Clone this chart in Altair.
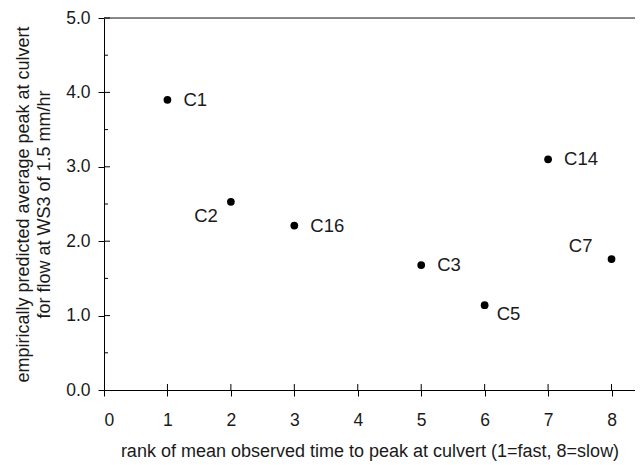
import altair as alt
import pandas as pd

ranks = [1, 2, 3, 5, 6, 7, 8]
peaks = [3.90, 2.53, 2.21, 1.68, 1.14, 3.10, 1.76]
names = ["C1", "C2", "C16", "C3", "C5", "C14", "C7"]
x_ticks = [0, 1, 2, 3, 4, 5, 6, 7, 8]
y_ticks = [0, 1, 2, 3, 4, 5]
minor_ticks = [0.5, 1.5, 2.5, 3.5, 4.5]

df = pd.DataFrame({"rank": ranks, "peak": peaks, "name": names})
minor_df = pd.DataFrame({"v": minor_ticks})
xt_df = pd.DataFrame({"v": x_ticks[1:]})
yt_df = pd.DataFrame({"v": y_ticks[1:]})

FONT = "Liberation Sans"
W, H = 531, 372
TXT = "#1a1a1a"

xscale = alt.Scale(domain=[0, 8.37], nice=False, zero=False)
yscale = alt.Scale(domain=[0, 5], nice=False)

x = alt.X("rank:Q", scale=xscale,
          axis=alt.Axis(values=x_ticks, format="d",
                        title="rank of mean observed time to peak at culvert (1=fast, 8=slow)",
                        grid=False, tickSize=6, labelPadding=15, titlePadding=14,
                        domainColor="black", tickColor="black", labelColor=TXT,
                        titleColor=TXT, labelFontSize=17.5, titleFontSize=18,
                        titleFontWeight="normal", labelFont=FONT, titleFont=FONT))
y = alt.Y("peak:Q", scale=yscale,
          axis=alt.Axis(values=y_ticks, format=".1f",
                        title=["empirically predicted average peak at culvert",
                               "for  flow at WS3 of 1.5 mm/hr"],
                        grid=False, tickSize=6, labelPadding=8, titlePadding=12,
                        domainColor="black", tickColor="black", labelColor=TXT,
                        titleColor=TXT, labelFontSize=17.5, titleFontSize=18,
                        titleFontWeight="normal", labelFont=FONT, titleFont=FONT,
                        titleLineHeight=21))

base = alt.Chart(df)

points = base.mark_circle(size=60, color="black", opacity=1).encode(x=x, y=y)

txt = dict(font=FONT, fontSize=18.5, color=TXT, baseline="middle")
right_lbl = base.transform_filter(
    alt.FieldOneOfPredicate(field="name", oneOf=["C1", "C16", "C3", "C14"])
).mark_text(align="left", dx=16, **txt).encode(x="rank:Q", y="peak:Q", text="name:N")
c2_lbl = base.transform_filter(alt.datum.name == "C2").mark_text(
    align="right", dx=-13, dy=14, **txt).encode(x="rank:Q", y="peak:Q", text="name:N")
c5_lbl = base.transform_filter(alt.datum.name == "C5").mark_text(
    align="left", dx=12, dy=9, **txt).encode(x="rank:Q", y="peak:Q", text="name:N")
c7_lbl = base.transform_filter(alt.datum.name == "C7").mark_text(
    align="right", dx=-19, dy=-13, **txt).encode(x="rank:Q", y="peak:Q", text="name:N")

minor = alt.Chart(minor_df).mark_rule(color="black", strokeWidth=1).encode(
    x=alt.value(0), x2=alt.value(4), y=alt.Y("v:Q", scale=yscale))
y_inner = alt.Chart(yt_df).mark_rule(color="black", strokeWidth=1).encode(
    x=alt.value(0), x2=alt.value(6), y=alt.Y("v:Q", scale=yscale))
x_inner = alt.Chart(xt_df).mark_rule(color="black", strokeWidth=1).encode(
    y=alt.value(H), y2=alt.value(H - 6), x=alt.X("v:Q", scale=xscale))

top_line = alt.Chart(pd.DataFrame({"t": [5.0]})).mark_rule(
    color="#666", strokeWidth=1.5).encode(y=alt.Y("t:Q", scale=yscale))

chart = alt.layer(top_line, minor, y_inner, x_inner, points,
                  right_lbl, c2_lbl, c5_lbl, c7_lbl).properties(
    width=W, height=H,
    autosize=alt.AutoSizeParams(type="none"),
    padding={"left": 96, "top": 10, "right": 0, "bottom": 73},
).configure_view(stroke=None).configure(background="white")

chart.save("out.html", embed_options={"renderer": "svg", "actions": False})
